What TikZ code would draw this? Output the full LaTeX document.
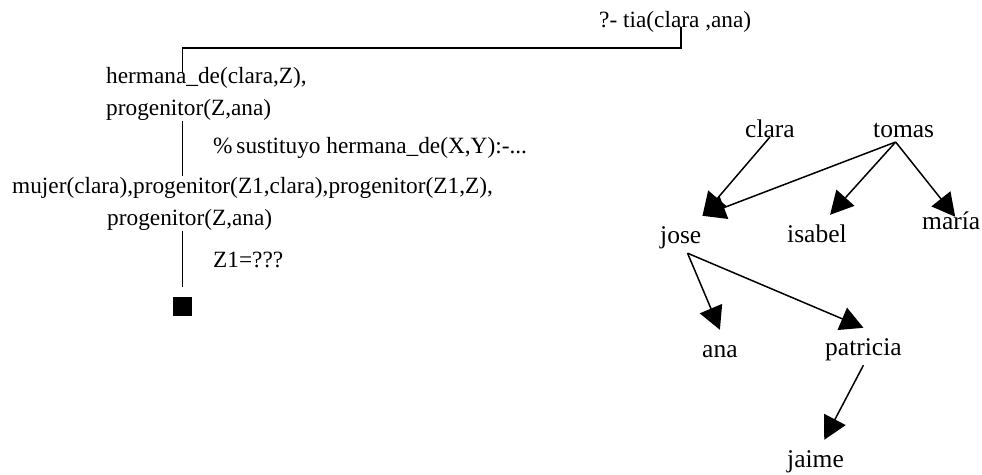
\documentclass[tikz,border=0pt]{standalone}
\usepackage{fontspec}
\setmainfont{Liberation Serif}
\usetikzlibrary{arrows.meta}
\begin{document}
\begin{tikzpicture}[x=1pt,y=-1pt,
  arrow/.style = {line width=1.5pt,-{Triangle[length=23pt,width=24pt]}},
  link/.style = {line width=1.5pt},
  goal/.style = {anchor=base west,inner sep=1pt,font=\fontsize{23.3}{28}\selectfont},
  person/.style = {anchor=base west,inner xsep=1pt,inner ysep=1pt,text height=26pt,text depth=9pt,font=\fontsize{25.5}{30}\selectfont}]
\useasboundingbox (0,0) rectangle (982,474);

% resolution tree
\node[goal] (query) at (598,27) {?- tia(clara ,ana)};
\node[goal] (goal1a) at (105,83) {hermana\_de(clara,Z),};
\node[goal] (goal1b) at (105,115) {progenitor(Z,ana)};
\node[goal] (note1) at (212,153) {\%\,sustituyo hermana\_de(X,Y):-...};
\node[goal] (goal2a) at (11,193) {mujer(clara),progenitor(Z1,clara),progenitor(Z1,Z),};
\node[goal] (goal2b) at (106,225) {progenitor(Z,ana)};
\node[goal] (note2) at (212,267) {Z1=???};
\node[fill,minimum size=19pt,inner sep=0] (done) at (182.5,306) {};

\draw[link,shorten >=-7pt] ([xshift=6pt]query.base) -- ++(0,21) -| (goal1a.north -| done);
\draw[link] (goal1b.south -| done) -- (goal2a.north -| done);
\draw[link,shorten >=9pt] (goal2b.south -| done) -- (done.north);

% family tree
\node[person] (clara) at (744,137) {clara};
\node[person] (tomas) at (872,137) {tomas};
\node[person] (jose) at (659,243) {jose};
\node[person] (isabel) at (786,242) {isabel};
\node[person] (maria) at (921,229) {maría};
\node[person] (ana) at (701,357) {ana};
\node[person] (patricia) at (824,355) {patricia};
\node[person] (jaime) at (786,467) {jaime};

\draw[arrow] (clara.base) -- (jose.north east);
\draw[arrow] ([xshift=-8pt,yshift=-5pt]tomas.base) -- (jose.north east);
\draw[arrow] ([xshift=-8pt,yshift=-5pt]tomas.base) -- (isabel.55);
\draw[arrow] ([xshift=-8pt,yshift=-5pt]tomas.base) -- ([xshift=4pt,yshift=-15pt]maria.north);
\draw[arrow] (jose.290) -- (ana.north);
\draw[arrow] (jose.290) -- (patricia.north);
\draw[arrow] (patricia.south) -- (jaime.65);
\end{tikzpicture}
\end{document}
